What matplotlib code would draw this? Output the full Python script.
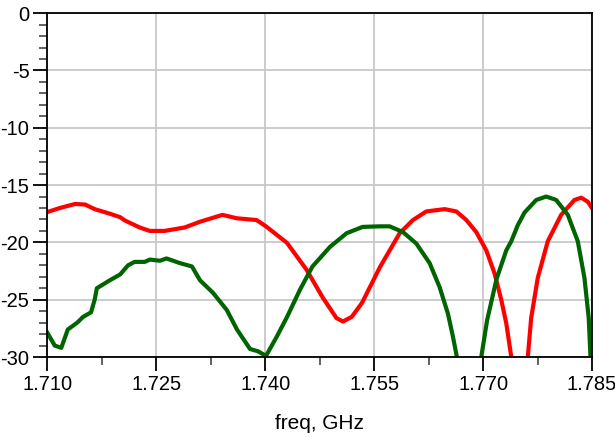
import matplotlib.pyplot as plt
from matplotlib.ticker import MultipleLocator

plt.rcParams['font.family'] = ['Liberation Sans', 'DejaVu Sans']

# red trace
red_f1 = [1.7100, 1.7117, 1.7138, 1.7152, 1.7165, 1.7186, 1.7200, 1.7207, 1.7227, 1.7241,
          1.7261, 1.7289, 1.7310, 1.7341, 1.7361, 1.7388, 1.7402, 1.7430, 1.7457, 1.7479,
          1.7498, 1.7507, 1.7519, 1.7533, 1.75576, 1.75713, 1.75851, 1.76034, 1.76218, 1.76470,
          1.76631, 1.76769, 1.76906, 1.77044, 1.77158, 1.77250, 1.77319, 1.77388, 1.7741]
red_db1 = [-17.35, -17.0, -16.65, -16.7, -17.1, -17.5, -17.8, -18.1, -18.7, -19.0,
           -19.0, -18.7, -18.2, -17.6, -17.9, -18.05, -18.65, -20.05, -22.4, -24.8,
           -26.6, -26.9, -26.5, -25.3, -22.2, -20.7, -19.2, -18.05, -17.3, -17.1,
           -17.3, -18.05, -19.1, -20.7, -22.7, -25.0, -27.05, -30.0, -31.0]
red_f2 = [1.7760, 1.77616, 1.77662, 1.77753, 1.77891, 1.78075, 1.78258, 1.78351, 1.78441, 1.7850]
red_db2 = [-31.0, -30.0, -26.6, -23.1, -19.9, -17.6, -16.3, -16.1, -16.45, -17.0]

# green trace
grn_f1 = [1.7100, 1.7110, 1.7119, 1.7128, 1.7141, 1.7149, 1.7160, 1.7165, 1.7168, 1.7186,
          1.7200, 1.7211, 1.7220, 1.7234, 1.7241, 1.7255, 1.7264, 1.7282, 1.7299, 1.7310,
          1.7328, 1.7347, 1.7361, 1.7379, 1.7390, 1.7401, 1.7416, 1.7430, 1.7448, 1.7465,
          1.7489, 1.7512, 1.7534, 1.75576, 1.75713, 1.75896, 1.76080, 1.76263, 1.76401, 1.76515,
          1.76584, 1.76639, 1.7665]
grn_db1 = [-27.9, -29.0, -29.2, -27.6, -27.0, -26.5, -26.1, -25.0, -24.0, -23.3,
           -22.8, -22.0, -21.7, -21.7, -21.5, -21.6, -21.4, -21.8, -22.1, -23.3,
           -24.4, -25.9, -27.6, -29.3, -29.5, -29.9, -28.2, -26.5, -24.1, -22.1,
           -20.4, -19.2, -18.65, -18.6, -18.6, -19.1, -20.1, -21.8, -23.9, -26.2,
           -28.2, -30.0, -31.0]
grn_f2 = [1.7696, 1.76975, 1.77055, 1.77185, 1.77319, 1.77388, 1.77478, 1.77570, 1.77732, 1.77869,
          1.78007, 1.78167, 1.78304, 1.78396, 1.78455, 1.78479, 1.7849]
grn_db2 = [-31.0, -30.0, -26.8, -23.2, -20.7, -19.9, -18.5, -17.4, -16.3, -16.0,
           -16.3, -17.6, -19.9, -23.1, -26.6, -30.0, -31.0]

fig = plt.figure(figsize=(6.15, 4.37), dpi=100)
ax = fig.add_axes([0.0772, 0.183, 0.8854, 0.787])

green = '#006400'
ax.plot(red_f1, red_db1, color='#ff0000', lw=3.0)
ax.plot(red_f2, red_db2, color='#ff0000', lw=3.0)
ax.plot(grn_f1, grn_db1, color=green, lw=3.0)
ax.plot(grn_f2, grn_db2, color=green, lw=3.0)

ax.set_xlim(1.710, 1.785)
ax.set_ylim(-30, 0)
ax.xaxis.set_major_locator(MultipleLocator(0.015))
ax.xaxis.set_minor_locator(MultipleLocator(0.0075))
ax.yaxis.set_major_locator(MultipleLocator(5))
ax.yaxis.set_minor_locator(MultipleLocator(1))
ax.set_xticklabels([f'{v:.3f}' for v in ax.get_xticks()])
ax.set_yticklabels([f'{v:g}' for v in ax.get_yticks()])

ax.grid(True, which='major', color='#c8c8c8', lw=1.3)
ax.set_axisbelow(True)
for s in ax.spines.values():
    s.set_linewidth(1.3)
    s.set_color('black')

ax.tick_params(which='major', length=10, width=1.3, labelsize=14.5, pad=3)
ax.tick_params(which='minor', length=6, width=1.3, color='#555555')

ax.set_xlabel('freq, GHz', fontsize=15, labelpad=14)

fig.savefig('out.png', dpi=100)
